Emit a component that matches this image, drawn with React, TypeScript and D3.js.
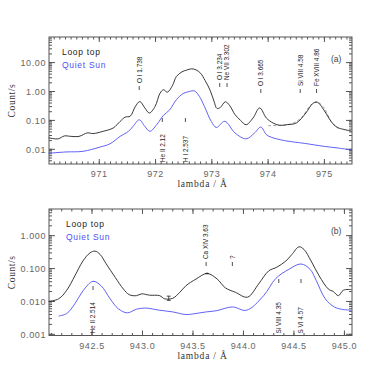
import React from "react";
import * as d3 from "d3";

// ---------- DATA ----------
// Panel (a)
const topLoopWave = [970.10, 970.27, 970.38, 970.5, 970.64, 970.79, 970.89, 971.07, 971.25, 971.37, 971.46, 971.55, 971.64, 971.72, 971.81, 971.89, 971.99, 972.08, 972.14, 972.21, 972.3, 972.37, 972.47, 972.55, 972.64, 972.72, 972.8, 972.88, 972.97, 973.04, 973.09, 973.15, 973.24, 973.32, 973.41, 973.51, 973.61, 973.73, 973.85, 973.97, 974.09, 974.2, 974.35, 974.5, 974.67, 974.79, 974.87, 974.99, 975.08, 975.17, 975.25, 975.32, 975.4, 975.48];
const topLoopCounts = [0.025, 0.023, 0.029, 0.028, 0.028, 0.037, 0.035, 0.042, 0.055, 0.092, 0.13, 0.14, 0.30, 0.45, 0.27, 0.18, 0.30, 0.88, 1.15, 0.95, 1.6, 3.3, 4.8, 5.5, 6.1, 5.6, 4.3, 2.4, 1.1, 0.45, 0.26, 0.28, 0.44, 0.32, 0.16, 0.1, 0.071, 0.12, 0.27, 0.12, 0.081, 0.068, 0.072, 0.081, 0.18, 0.38, 0.43, 0.23, 0.12, 0.07, 0.055, 0.05, 0.046, 0.043];
const topQuietWave = [970.10, 970.41, 970.71, 971.01, 971.19, 971.37, 971.52, 971.6, 971.71, 971.81, 971.9, 972.02, 972.14, 972.25, 972.37, 972.49, 972.6, 972.69, 972.78, 972.87, 972.99, 973.08, 973.23, 973.41, 973.61, 973.76, 973.87, 973.97, 974.06, 974.29, 974.65, 975.0, 975.25, 975.48];
const topQuietCounts = [0.0073, 0.0081, 0.0085, 0.0119, 0.0155, 0.028, 0.042, 0.062, 0.105, 0.062, 0.042, 0.071, 0.15, 0.23, 0.52, 0.85, 1.0, 1.05, 0.67, 0.30, 0.092, 0.057, 0.093, 0.037, 0.023, 0.037, 0.059, 0.032, 0.026, 0.020, 0.016, 0.0126, 0.011, 0.0095];
const topFitWave = [974.0, 974.2, 974.4, 974.6, 974.75, 974.87, 975.0, 975.12, 975.25];
const topFitCounts = [0.066, 0.067, 0.074, 0.13, 0.33, 0.43, 0.26, 0.09, 0.052];

// Panel (b)
const botLoopWave = [942.07, 942.17, 942.25, 942.33, 942.41, 942.48, 942.53, 942.58, 942.64, 942.73, 942.81, 942.87, 942.94, 942.99, 943.07, 943.17, 943.22, 943.3, 943.37, 943.43, 943.53, 943.64, 943.74, 943.82, 943.92, 944.04, 944.15, 944.25, 944.33, 944.42, 944.48, 944.55, 944.6, 944.67, 944.75, 944.84, 944.89, 944.94, 944.99, 945.07];
const botLoopCounts = [0.010, 0.012, 0.022, 0.06, 0.17, 0.30, 0.34, 0.27, 0.14, 0.054, 0.024, 0.016, 0.015, 0.017, 0.0155, 0.015, 0.012, 0.0125, 0.019, 0.03, 0.048, 0.071, 0.048, 0.026, 0.019, 0.0135, 0.034, 0.085, 0.11, 0.17, 0.27, 0.46, 0.38, 0.17, 0.06, 0.024, 0.02, 0.015, 0.022, 0.023];
const botQuietWave = [942.17, 942.25, 942.33, 942.41, 942.51, 942.59, 942.68, 942.76, 942.85, 942.94, 943.03, 943.17, 943.3, 943.43, 943.53, 943.63, 943.73, 943.89, 944.03, 944.2, 944.32, 944.45, 944.57, 944.66, 944.72, 944.81, 944.9, 944.97, 945.07];
const botQuietCounts = [0.0036, 0.0043, 0.0085, 0.021, 0.041, 0.030, 0.012, 0.006, 0.0045, 0.0058, 0.0063, 0.0054, 0.0048, 0.0040, 0.0043, 0.0048, 0.0052, 0.0068, 0.0054, 0.015, 0.05, 0.095, 0.138, 0.095, 0.044, 0.012, 0.0068, 0.0058, 0.0054];

const topXTicks = [971, 972, 973, 974, 975];
const topYTicks = [0.01, 0.1, 1, 10];
const topYLabels = ["0.01", "0.10", "1.00", "10.00"];
const botXTicks = [942.5, 943.0, 943.5, 944.0, 944.5, 945.0];
const botXLabels = ["942.5", "943.0", "943.5", "944.0", "944.5", "945.0"];
const botYTicks = [0.001, 0.01, 0.1, 1];
const botYLabels = ["0.001", "0.010", "0.100", "1.000"];

// line annotations: [wavelength, label, tick y]
const topLinesAbove: [number, string, number][] = [
  [971.71, "O I 1.738", 89],
  [973.14, "O I 3.234", 86],
  [973.27, "Ne VII 3.302", 86],
  [973.87, "O I 3.665", 92],
  [974.57, "Si VIII 4.58", 92],
  [974.86, "Fe XVIII 4.86", 92],
];
const topLinesBelow: [number, string, number][] = [
  [972.12, "He II 2.12", 121],
  [972.53, "H I 2.537", 121],
];
const botLinesAbove: [number, string, number][] = [
  [943.63, "Ca XIV 3.63", 265],
  [943.89, "?", 265],
];
const botLinesBelow: [number, string, number][] = [
  [942.51, "He II 2.514", 289],
  [944.35, "Si VIII 4.35", 282],
  [944.57, "S VI 4.57", 282],
];

const BLUE = "#4f4ff5";
const AXIS = "#555";
const FONT = "'Liberation Sans', 'DejaVu Sans', sans-serif";

type PanelProps = {
  top: number;
  bottom: number;
  xDomain: [number, number];
  yDomain: [number, number];
  xTicks: number[];
  xLabels: string[];
  xMinorStep: number;
  yTicks: number[];
  yLabels: string[];
  loopW: number[];
  loopC: number[];
  quietW: number[];
  quietC: number[];
  above: [number, string, number][];
  below: [number, string, number][];
  tag: string;
  legendX: number;
  children?: (x: d3.ScaleLinear<number, number>, y: d3.ScaleLogarithmic<number, number>) => React.ReactNode;
};

const LEFT = 49;
const RIGHT = 352;

function Panel(p: PanelProps) {
  const x = d3.scaleLinear().domain(p.xDomain).range([LEFT, RIGHT]);
  const y = d3.scaleLog().domain(p.yDomain).range([p.bottom, p.top]);
  const line = d3
    .line<[number, number]>()
    .x((d) => x(d[0]))
    .y((d) => y(d[1]))
    .curve(d3.curveCatmullRom.alpha(0.5));
  const loopPts = p.loopW.map((w, i) => [w, p.loopC[i]] as [number, number]);
  const quietPts = p.quietW.map((w, i) => [w, p.quietC[i]] as [number, number]);

  const minorX: number[] = [];
  const start = Math.ceil(p.xDomain[0] / p.xMinorStep);
  const end = Math.floor(p.xDomain[1] / p.xMinorStep);
  for (let k = start; k <= end; k++) minorX.push(k * p.xMinorStep);
  const minorY: number[] = [];
  const e0 = Math.floor(Math.log10(p.yDomain[0]));
  const e1 = Math.ceil(Math.log10(p.yDomain[1]));
  for (let e = e0; e <= e1; e++) {
    for (let m = 1; m <= 9; m++) {
      const v = m * Math.pow(10, e);
      if (v >= p.yDomain[0] && v <= p.yDomain[1]) minorY.push(v);
    }
  }
  const midY = (p.top + p.bottom) / 2;

  return (
    <g>
      <g stroke={AXIS} strokeWidth={1} fill="none">
        <rect x={LEFT} y={p.top} width={RIGHT - LEFT} height={p.bottom - p.top} />
        {minorX.map((v, i) => (
          <g key={"mx" + i}>
            <line x1={x(v)} x2={x(v)} y1={p.bottom} y2={p.bottom - 2.5} />
            <line x1={x(v)} x2={x(v)} y1={p.top} y2={p.top + 2.5} />
          </g>
        ))}
        {p.xTicks.map((v, i) => (
          <g key={"Mx" + i}>
            <line x1={x(v)} x2={x(v)} y1={p.bottom} y2={p.bottom - 5} />
            <line x1={x(v)} x2={x(v)} y1={p.top} y2={p.top + 5} />
          </g>
        ))}
        {minorY.map((v, i) => (
          <g key={"my" + i}>
            <line x1={LEFT} x2={LEFT + 3} y1={y(v)} y2={y(v)} />
            <line x1={RIGHT} x2={RIGHT - 3} y1={y(v)} y2={y(v)} />
          </g>
        ))}
        {p.yTicks.map((v, i) => (
          <g key={"My" + i}>
            <line x1={LEFT} x2={LEFT + 6} y1={y(v)} y2={y(v)} />
            <line x1={RIGHT} x2={RIGHT - 6} y1={y(v)} y2={y(v)} />
          </g>
        ))}
      </g>
      <g fill="#666" fontFamily={FONT} fontSize={9} letterSpacing={0.6}>
        {p.xTicks.map((v, i) => (
          <text key={"xl" + i} x={x(v)} y={p.bottom + 13} textAnchor="middle">
            {p.xLabels[i]}
          </text>
        ))}
        {p.yTicks.map((v, i) => (
          <text key={"yl" + i} x={LEFT - 3} y={y(v) + 3.5} textAnchor="end">
            {p.yLabels[i]}
          </text>
        ))}
      </g>
      <text
        x={(LEFT + RIGHT) / 2 + 2}
        y={p.bottom + 23}
        textAnchor="middle"
        fontFamily="'Liberation Serif', serif"
        fontSize={9.5}
        letterSpacing={0.8}
        fill="#333"
      >
        lambda / Å
      </text>
      <text
        transform={`translate(15,${midY}) rotate(-90)`}
        textAnchor="middle"
        fontFamily="'Liberation Serif', serif"
        fontSize={9.5}
        letterSpacing={0.6}
        fill="#333"
      >
        Count/s
      </text>
      <text x={p.legendX} y={p.top + 18} fontFamily={FONT} fontSize={8.5} letterSpacing={0.7} fill="#222">
        Loop top
      </text>
      <text x={p.legendX} y={p.top + 31} fontFamily={FONT} fontSize={8.5} letterSpacing={0.7} fill={BLUE}>
        Quiet Sun
      </text>
      <text x={RIGHT - 21} y={p.top + 25} fontFamily={FONT} fontSize={8.5} fill="#444">
        {p.tag}
      </text>
      {p.children && p.children(x, y)}
      <path d={line(quietPts) || ""} fill="none" stroke={BLUE} strokeWidth={0.9} />
      <path d={line(loopPts) || ""} fill="none" stroke="#222" strokeWidth={0.9} />
      <g fontFamily={FONT} fontSize={6.4} fill="#222">
        {p.above.map(([w, label, ty], i) => (
          <g key={"a" + i}>
            <line x1={x(w)} x2={x(w)} y1={ty - 3} y2={ty + 1} stroke="#222" strokeWidth={0.8} />
            <text transform={`translate(${x(w) + 2.3},${ty - 6}) rotate(-90)`} textAnchor="start">
              {label}
            </text>
          </g>
        ))}
        {p.below.map(([w, label, ty], i) => (
          <g key={"b" + i}>
            <line x1={x(w)} x2={x(w)} y1={ty - 3} y2={ty + 1} stroke="#222" strokeWidth={0.8} />
            <text transform={`translate(${x(w) + 2.3},${p.bottom - 2}) rotate(-90)`} textAnchor="start">
              {label}
            </text>
          </g>
        ))}
      </g>
    </g>
  );
}

export default function App() {
  return (
    <svg width={374} height={374} style={{ position: "absolute", left: 0, top: 0, background: "#fff" }}>
      <Panel
        top={37}
        bottom={164}
        xDomain={[970.107, 975.49]}
        yDomain={[0.0031, 77]}
        xTicks={topXTicks}
        xLabels={topXTicks.map(String)}
        xMinorStep={0.1}
        yTicks={topYTicks}
        yLabels={topYLabels}
        loopW={topLoopWave}
        loopC={topLoopCounts}
        quietW={topQuietWave}
        quietC={topQuietCounts}
        above={topLinesAbove}
        below={topLinesBelow}
        tag="(a)"
        legendX={62}
      >
        {(x, y) => {
          const fl = d3
            .line<[number, number]>()
            .x((d) => x(d[0]))
            .y((d) => y(d[1]))
            .curve(d3.curveCatmullRom.alpha(0.5));
          const pts = topFitWave.map((w, i) => [w, topFitCounts[i]] as [number, number]);
          return <path d={fl(pts) || ""} fill="none" stroke="#999" strokeWidth={0.9} strokeDasharray="3,2" />;
        }}
      </Panel>
      <Panel
        top={209}
        bottom={335.5}
        xDomain={[942.074, 945.075]}
        yDomain={[0.00092, 6.5]}
        xTicks={botXTicks}
        xLabels={botXLabels}
        xMinorStep={0.1}
        yTicks={botYTicks}
        yLabels={botYLabels}
        loopW={botLoopWave}
        loopC={botLoopCounts}
        quietW={botQuietWave}
        quietC={botQuietCounts}
        above={botLinesAbove}
        below={botLinesBelow}
        tag="(b)"
        legendX={66}
      >
        {(x, y) => (
          <g stroke="#222" strokeWidth={0.8}>
            <line x1={x(943.26)} x2={x(943.26)} y1={y(0.0145)} y2={y(0.0108)} />
            <line x1={x(943.26) - 2} x2={x(943.26) + 2} y1={y(0.0145)} y2={y(0.0145)} />
            <line x1={x(943.26) - 2} x2={x(943.26) + 2} y1={y(0.0108)} y2={y(0.0108)} />
            <line x1={x(943.64) - 2} x2={x(943.64) + 2} y1={y(0.071)} y2={y(0.071)} />
            <line x1={x(943.64)} x2={x(943.64)} y1={y(0.076)} y2={y(0.066)} />
          </g>
        )}
      </Panel>
    </svg>
  );
}
